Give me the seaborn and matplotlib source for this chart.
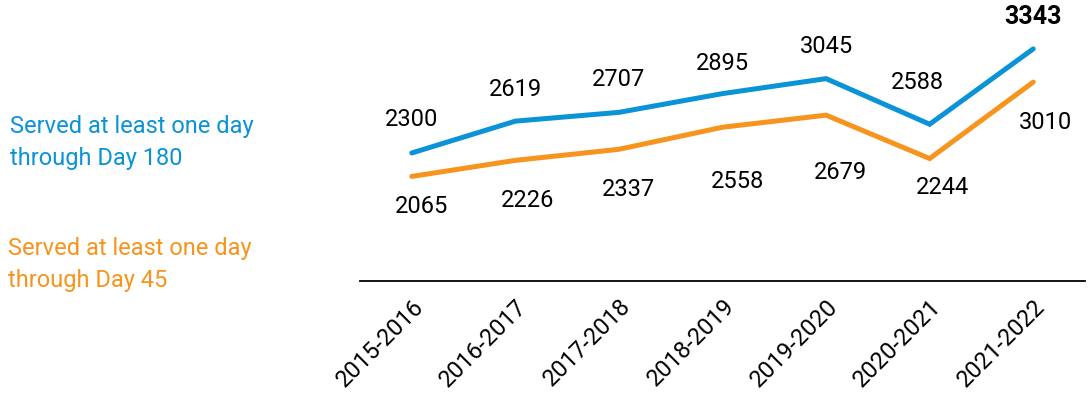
import matplotlib
matplotlib.use("Agg")
import matplotlib.pyplot as plt
import seaborn as sns
import pandas as pd

years = ["2015-2016", "2016-2017", "2017-2018", "2018-2019", "2019-2020", "2020-2021", "2021-2022"]
day180 = [2300, 2619, 2707, 2895, 3045, 2588, 3343]
day45 = [2065, 2226, 2337, 2558, 2679, 2244, 3010]
series_names = ["Served at least one day\nthrough Day 180", "Served at least one day\nthrough Day 45"]

BLUE = "#0A93D7"
ORANGE = "#F7941D"

sns.set_theme(style="white")
plt.rcParams["font.family"] = ["Roboto", "DejaVu Sans"]

df = pd.DataFrame({
    "year": years * 2,
    "value": day180 + day45,
    "series": [series_names[0]] * len(years) + [series_names[1]] * len(years),
})

fig = plt.figure(figsize=(10.91, 4.0), dpi=100)
ax = fig.add_axes([0.33, 0.2975, 0.6645, 0.7025])
sns.lineplot(data=df, x="year", y="value", hue="series", palette=[BLUE, ORANGE],
             linewidth=3.6, legend=False, ax=ax, sort=False)
for ln in ax.lines:
    ln.set_solid_capstyle("round")
    ln.set_solid_joinstyle("miter")

ax.set_xlim(-0.5, 6.5)
ax.set_ylim(1017, 3833)
ax.set_xlabel("")
ax.set_ylabel("")
ax.set_yticks([])
for s in ["top", "right", "left"]:
    ax.spines[s].set_visible(False)
ax.spines["bottom"].set_color("black")
ax.spines["bottom"].set_linewidth(1.3)
ax.tick_params(axis="x", length=0, pad=10)
ax.set_xticks(range(len(years)))
ax.set_xticklabels(years, rotation=45, ha="right", rotation_mode="anchor", fontsize=17, color="black")

# label offsets in points (dx, dy) relative to each point
blue_off = [(0, 24), (0, 23), (0, 24), (0, 22), (0, 23), (-9, 30), (0, 23)]
orange_off = [(7, -22), (9, -29), (7, -29), (11, -39), (10, -41), (9, -21), (9, -29)]
for i, v in enumerate(day180):
    last = i == len(day180) - 1
    dx, dy = blue_off[i]
    ax.annotate(str(v), (i, v), xytext=(dx, dy), textcoords="offset points",
                ha="center", va="center", fontsize=18 if last else 17, color="black",
                fontweight="bold" if last else "normal")
for i, v in enumerate(day45):
    dx, dy = orange_off[i]
    ax.annotate(str(v), (i, v), xytext=(dx, dy), textcoords="offset points",
                ha="center", va="center", fontsize=17, color="black")

fig.text(10 / 1091, 1 - 143 / 400, series_names[0], color=BLUE, fontsize=17,
         ha="left", va="center", linespacing=1.5)
fig.text(8 / 1091, 1 - 264 / 400, series_names[1], color=ORANGE, fontsize=17,
         ha="left", va="center", linespacing=1.5)

fig.savefig("out.png", dpi=100)
